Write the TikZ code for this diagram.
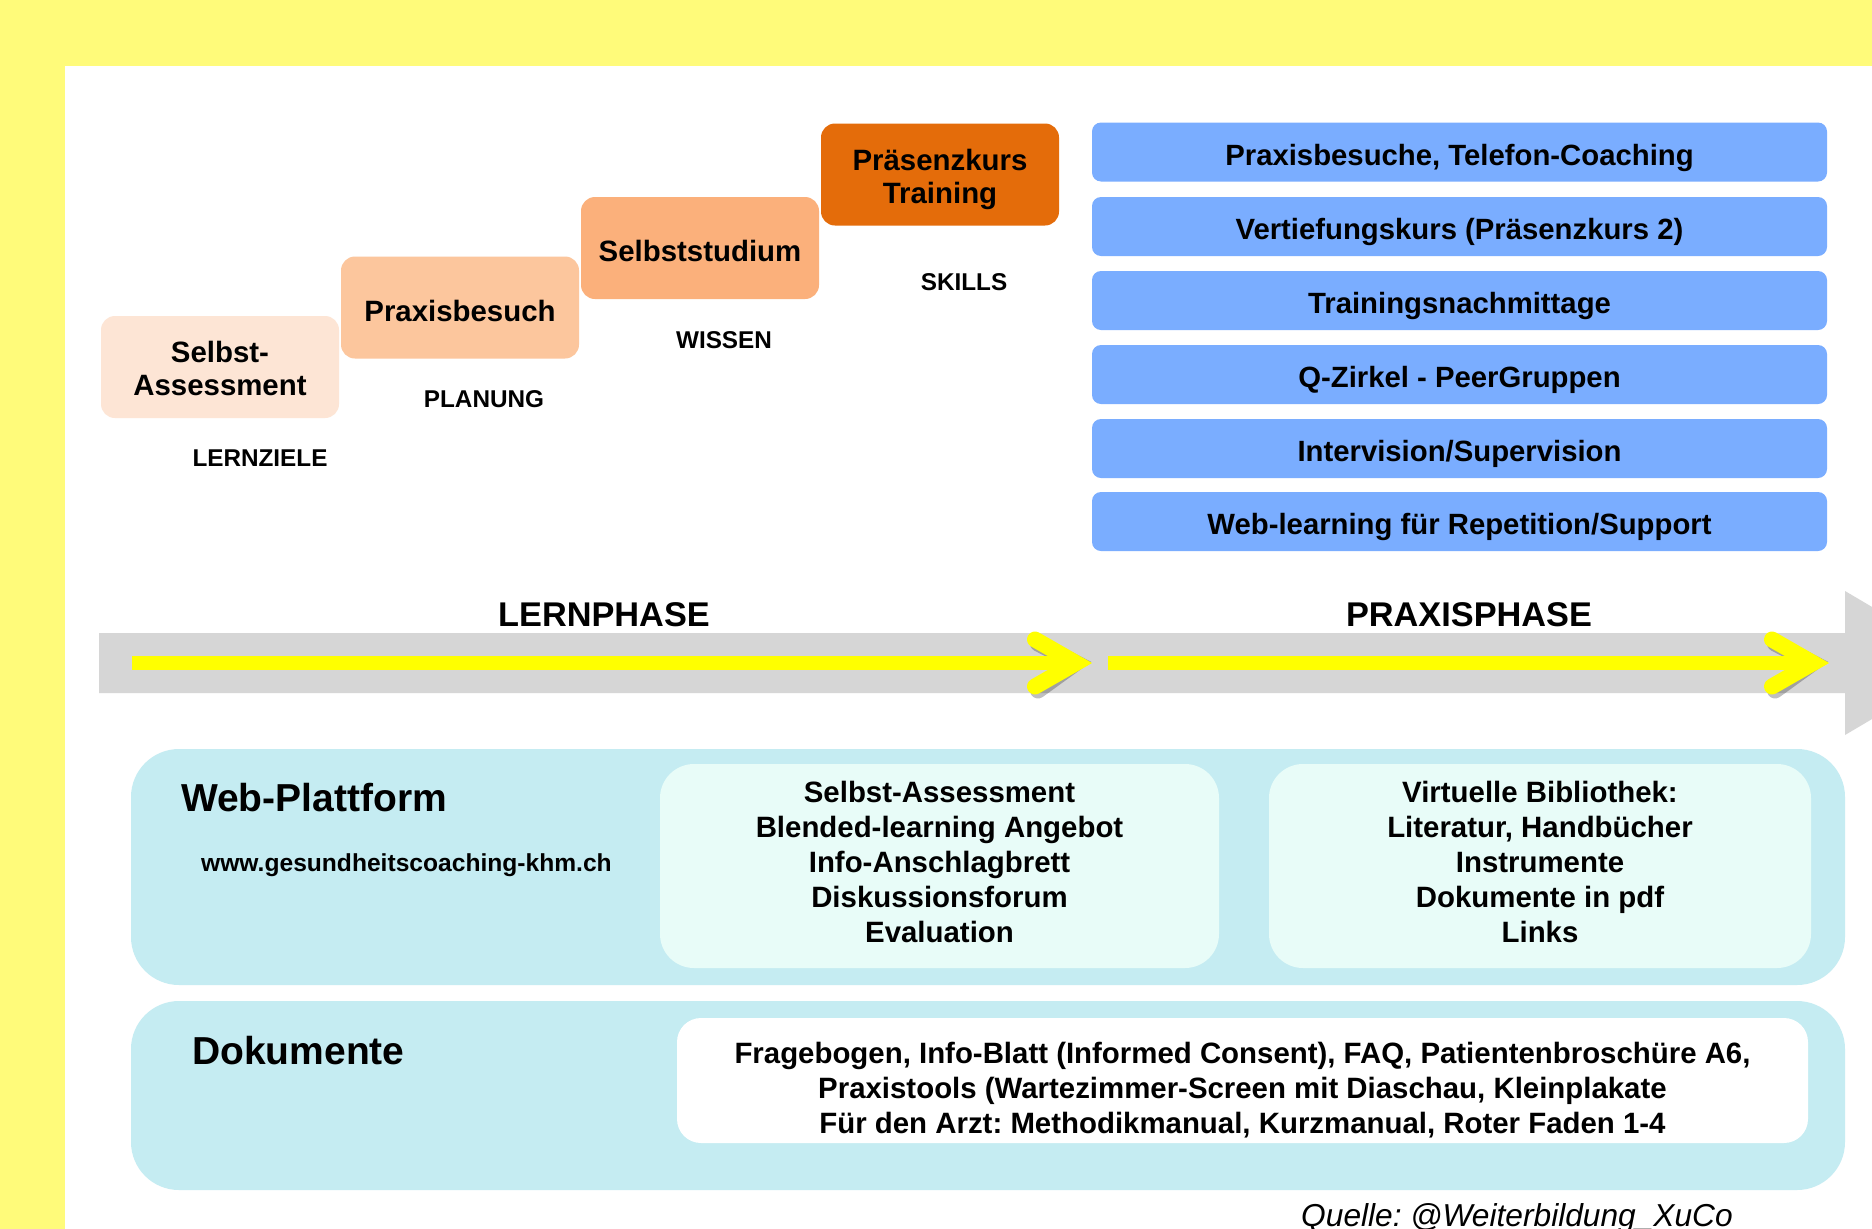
\documentclass[tikz,border=0pt]{standalone}
\usepackage{fontspec}
\setmainfont{Liberation Sans}
\usepackage{tikz}
\usetikzlibrary{calc}
\frenchspacing

\definecolor{bgyellow}{HTML}{FFFB7A}
\definecolor{stairA}{HTML}{FDE5D5}
\definecolor{stairB}{HTML}{FCC69D}
\definecolor{stairC}{HTML}{FBB07B}
\definecolor{stairD}{HTML}{E46C0A}
\definecolor{barblue}{HTML}{7AADFF}
\definecolor{bandgrey}{HTML}{D6D6D6}
\definecolor{panelcyan}{HTML}{C5ECF2}
\definecolor{paleaqua}{HTML}{E8FCF8}
\definecolor{arrowyellow}{HTML}{FFFF00}

\begin{document}
\begin{tikzpicture}[x=1pt, y=-1pt,
    stair/.style={rounded corners=14pt, minimum width=238pt, minimum height=102pt,
        align=center, inner sep=0pt, text height=27.4pt, text depth=0pt,
        font=\fontsize{29.4}{33}\selectfont\bfseries},
    bluebar/.style={fill=barblue, rounded corners=9pt, minimum width=735pt, minimum height=59pt,
        inner sep=0pt, text height=26pt, text depth=0pt,
        font=\fontsize{29.3}{33}\selectfont\bfseries},
    steplabel/.style={inner sep=0pt, font=\fontsize{24.3}{29}\selectfont\bfseries},
    phaselabel/.style={inner sep=0pt, font=\fontsize{34.3}{40}\selectfont\bfseries},
    panel/.style={fill=panelcyan, rounded corners=48pt, inner sep=0pt},
    panelhead/.style={anchor=west, inner sep=0pt, font=\fontsize{39}{46}\selectfont\bfseries},
    inner/.style={rounded corners=34pt, inner sep=0pt, align=center, text depth=0pt,
        font=\fontsize{29.4}{35}\selectfont\bfseries},
    shaft/.style={draw=arrowyellow, line width=14pt},
    chevron/.style={draw=arrowyellow, line width=16pt, line cap=round, line join=miter},
    shade/.style={draw=black, opacity=0.25}]

    \clip (0,0) rectangle (1872,1229);
    \useasboundingbox (0,0) rectangle (1872,1229);
    \fill[bgyellow] (0,0) rectangle (1872,1229);
    \fill[white] (65,66) rectangle (1872,1229);

    \node (s_a) at (220,367) [stair, fill=stairA, text height=57pt] {Selbst-\\Assessment};
    \node (s_b) at (460,307.5) [stair, fill=stairB] {Praxisbesuch};
    \node (s_c) at (700,248) [stair, fill=stairC] {Selbststudium};
    \node (s_d) at (940,174.5) [stair, fill=stairD, text height=57pt] {Präsenzkurs\\Training};

    \node (l_a) at (260,458) [steplabel] {LERNZIELE};
    \node (l_b) at (484,399) [steplabel] {PLANUNG};
    \node (l_c) at (724,340) [steplabel] {WISSEN};
    \node (l_d) at (964,282) [steplabel] {SKILLS};

    \node (b_a) at (1459.5,152) [bluebar] {Praxisbesuche, Telefon-Coaching};
    \node (b_b) at (1459.5,226.5) [bluebar] {Vertiefungskurs (Präsenzkurs 2)};
    \node (b_c) at (1459.5,300.5) [bluebar] {Trainingsnachmittage};
    \node (b_d) at (1459.5,374.5) [bluebar] {Q-Zirkel - PeerGruppen};
    \node (b_e) at (1459.5,448.5) [bluebar] {Intervision/Supervision};
    \node (b_f) at (1459.5,521.5) [bluebar] {Web-learning für Repetition/Support};

    \node (ph_a) at (604,614.5) [phaselabel] {LERNPHASE};
    \node (ph_b) at (1469,614.5) [phaselabel] {PRAXISPHASE};

    \fill[bandgrey] (99,633) -- (1845,633) -- (1845,591) -- (1967,663)
        -- (1845,735) -- (1845,693) -- (99,693) -- cycle;

    \coordinate (a_s) at (132,663);
    \coordinate (a_t) at (1076,663);
    \coordinate (c_s) at (1108,663);
    \coordinate (c_t) at (1813,663);

    \begin{scope}[shift={(3,4)}]
        \draw[shade, line width=14pt] (a_s) -- (a_t);
        \draw[shade, line width=16pt, line cap=round] (1035,639.5) -- (a_t) -- (1035,686.5);
        \draw[shade, line width=14pt] (c_s) -- (c_t);
        \draw[shade, line width=16pt, line cap=round] (1772,639.5) -- (c_t) -- (1772,686.5);
    \end{scope}
    \draw[shaft] (a_s) -- (a_t);
    \draw[chevron] (1035,639.5) -- (a_t) -- (1035,686.5);
    \draw[shaft] (c_s) -- (c_t);
    \draw[chevron] (1772,639.5) -- (c_t) -- (1772,686.5);

    \node (web) at (988,867) [panel, minimum width=1714pt, minimum height=236pt] {};
    \node (web_t) at (181,798) [panelhead] {Web-Plattform};
    \node (web_u) at (201,865.5) [anchor=west, inner sep=0pt,
        font=\fontsize{24.6}{29}\selectfont\bfseries] {www.gesundheitscoaching-khm.ch};
    \node (w_a) at (939.5,866) [inner, fill=paleaqua, minimum width=559pt, minimum height=204pt,
        text height=152.4pt]
        {Selbst-Assessment\\Blended-learning Angebot\\Info-Anschlagbrett\\Diskussionsforum\\Evaluation};
    \node (w_b) at (1540,866) [inner, fill=paleaqua, minimum width=542pt, minimum height=204pt,
        text height=152.4pt]
        {Virtuelle Bibliothek:\\Literatur, Handbücher\\Instrumente\\Dokumente in pdf\\Links};

    \node (doc) at (988,1095.5) [panel, minimum width=1714pt, minimum height=189pt] {};
    \node (doc_t) at (192,1050.4) [panelhead] {Dokumente};
    \node (d_a) at (1242.5,1080.5) [inner, rounded corners=24pt, fill=white,
        minimum width=1131pt, minimum height=125pt, text height=105.6pt]
        {Fragebogen, Info-Blatt (Informed Consent), FAQ, Patientenbroschüre A6,\\
         Praxistools (Wartezimmer-Screen mit Diaschau, Kleinplakate\\
         Für den Arzt: Methodikmanual, Kurzmanual, Roter Faden 1-4};

    \node (quelle) at (1301,1226.6) [anchor=base west, inner sep=0pt,
        font=\fontsize{31.7}{38}\selectfont\itshape] {Quelle: @Weiterbildung\_XuCo};
\end{tikzpicture}
\end{document}
